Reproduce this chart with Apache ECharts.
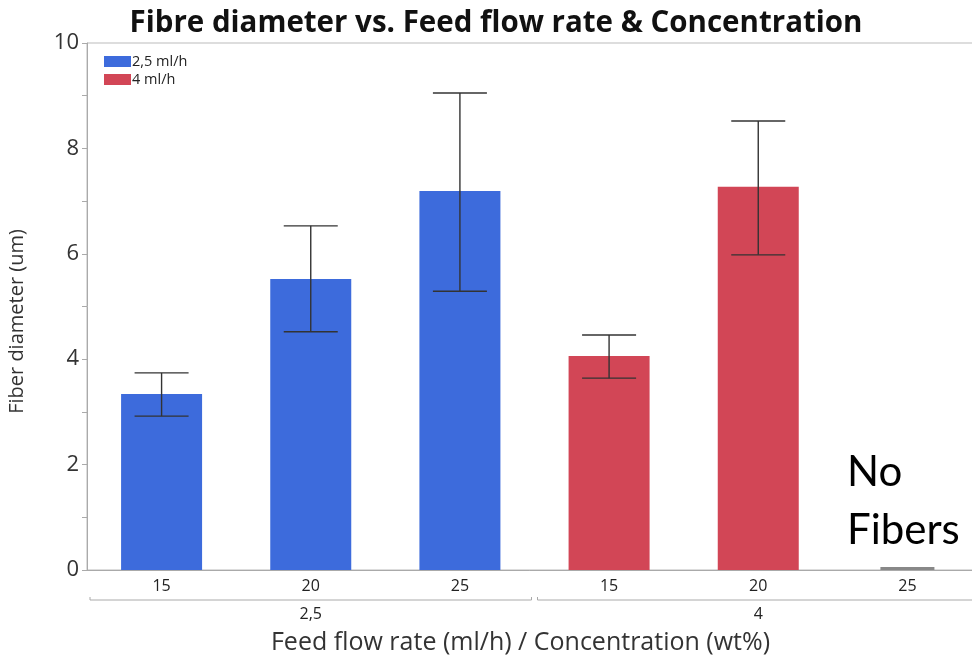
<!DOCTYPE html>
<html>
<head>
<meta charset="utf-8">
<script src="https://cdn.jsdelivr.net/npm/echarts@6/dist/echarts.min.js"></script>
<style>html,body{margin:0;padding:0;background:#fff;overflow:hidden}#c{width:972px;height:655px}</style>
</head>
<body>
<div id="c"></div>
<script>
const categories = ['15', '20', '25', '15', '20', '25'];
const groups = ['2,5', '4'];
const groupSizes = [3, 3];
const seriesNames = ['2,5 ml/h', '4 ml/h'];
const values25 = [3.34, 5.52, 7.19, '-', '-', '-'];
const values4 = ['-', '-', '-', 4.06, 7.27, 0];
const errLow = [2.92, 4.52, 5.29, 3.64, 5.98, 0];
const errHigh = [3.74, 6.53, 9.05, 4.46, 8.52, 0];
const yTicks = [0, 2, 4, 6, 8, 10];

const chart = echarts.init(document.getElementById('c'));
const font = '"Open Sans", "Noto Sans", sans-serif';

const option = {
  animation: false,
  title: {
    text: 'Fibre diameter vs. Feed flow rate & Concentration',
    left: 491, textAlign: 'center', top: 4,
    textStyle: { fontFamily: font, fontWeight: 'bold', fontSize: 29.5, color: '#111' }
  },
  legend: {
    orient: 'vertical', left: 99, top: 49,
    itemWidth: 27, itemHeight: 11, itemGap: 3,
    textStyle: { fontFamily: font, fontSize: 14.5, color: '#222', padding: [0, 0, 0, -4] },
    icon: 'rect',
    data: seriesNames
  },
  grid: { left: 87, top: 43, width: 895, height: 527, outerBoundsMode: 'none', containLabel: false,
    show: true, borderColor: '#bbb', borderWidth: 1 },
  xAxis: {
    type: 'category', data: categories,
    axisLine: { lineStyle: { color: '#aaa' } },
    axisTick: { show: false },
    axisLabel: { fontFamily: font, fontSize: 16, color: '#222', margin: 8 },
    name: 'Feed flow rate (ml/h) / Concentration (wt%)',
    nameLocation: 'middle', nameGap: 60,
    nameTextStyle: { fontFamily: font, fontSize: 25, color: '#333', padding: [0, 28, 0, 0] }
  },
  yAxis: {
    type: 'value', min: 0, max: 10, interval: 2,
    axisLine: { show: true, lineStyle: { color: '#aaa' } },
    axisTick: { show: true, length: 5, lineStyle: { color: '#aaa' } },
    minorTick: { show: true, splitNumber: 2, length: 5, lineStyle: { color: '#aaa' } },
    splitLine: { show: false },
    axisLabel: { fontFamily: font, fontSize: 22, color: '#333', margin: 8,
      formatter: v => yTicks.includes(v) ? String(v) : '' },
    name: 'Fiber diameter (um)', nameLocation: 'middle', nameGap: 60,
    nameTextStyle: { fontFamily: font, fontSize: 20, color: '#333', padding: [0, 30, 0, 0] }
  },
  series: [
    { name: seriesNames[0], type: 'bar', data: values25, barWidth: 81, barGap: '-100%',
      itemStyle: { color: '#3d6bdc' } },
    { name: seriesNames[1], type: 'bar', data: values4, barWidth: 81, barGap: '-100%',
      itemStyle: { color: '#d24656' } },
    { type: 'custom', name: 'err', silent: true, z: 10,
      data: categories.map((c, i) => [i, errLow[i], errHigh[i]]),
      renderItem: function (params, api) {
        const i = api.value(0);
        const lo = api.coord([i, api.value(1)]);
        const hi = api.coord([i, api.value(2)]);
        const half = 27;
        const zero = api.value(1) === api.value(2);
        const style = { stroke: zero ? '#888' : '#333', lineWidth: zero ? 3 : 1.4 };
        if (zero) {
          return { type: 'line', shape: { x1: lo[0] - half, y1: lo[1] - 1.5, x2: lo[0] + half, y2: lo[1] - 1.5 }, style };
        }
        return { type: 'group', children: [
          { type: 'line', shape: { x1: hi[0], y1: hi[1], x2: lo[0], y2: lo[1] }, style },
          { type: 'line', shape: { x1: hi[0] - half, y1: hi[1], x2: hi[0] + half, y2: hi[1] }, style },
          { type: 'line', shape: { x1: lo[0] - half, y1: lo[1], x2: lo[0] + half, y2: lo[1] }, style }
        ]};
      }
    }
  ]
};
chart.setOption(option);

// group brackets under category labels
const step = chart.convertToPixel({ xAxisIndex: 0 }, 1) - chart.convertToPixel({ xAxisIndex: 0 }, 0);
const graphics = [];
let start = 0;
groups.forEach((g, gi) => {
  const n = groupSizes[gi];
  const x1 = chart.convertToPixel({ xAxisIndex: 0 }, start) - step / 2 + 3;
  const x2 = chart.convertToPixel({ xAxisIndex: 0 }, start + n - 1) + step / 2 - 3;
  const y = 600;
  graphics.push({ type: 'polyline', shape: { points: [[x1, y - 3], [x1, y], [x2, y], [x2, y - 3]] },
    style: { stroke: '#aaa', lineWidth: 1, fill: null } });
  const cx = chart.convertToPixel({ xAxisIndex: 0 }, start + Math.floor((n - 1) / 2));
  graphics.push({ type: 'text', x: cx, y: 606, style: { text: g, fontFamily: font, fontSize: 16, fill: '#222', align: 'center' } });
  start += n;
});
graphics.push({ type: 'text', x: 847, y: 443, style: { text: 'No\nFibers', fontFamily: 'Lato, sans-serif', fontSize: 42, lineHeight: 58, fill: '#000' } });
chart.setOption({ graphic: graphics });
</script>
</body>
</html>
